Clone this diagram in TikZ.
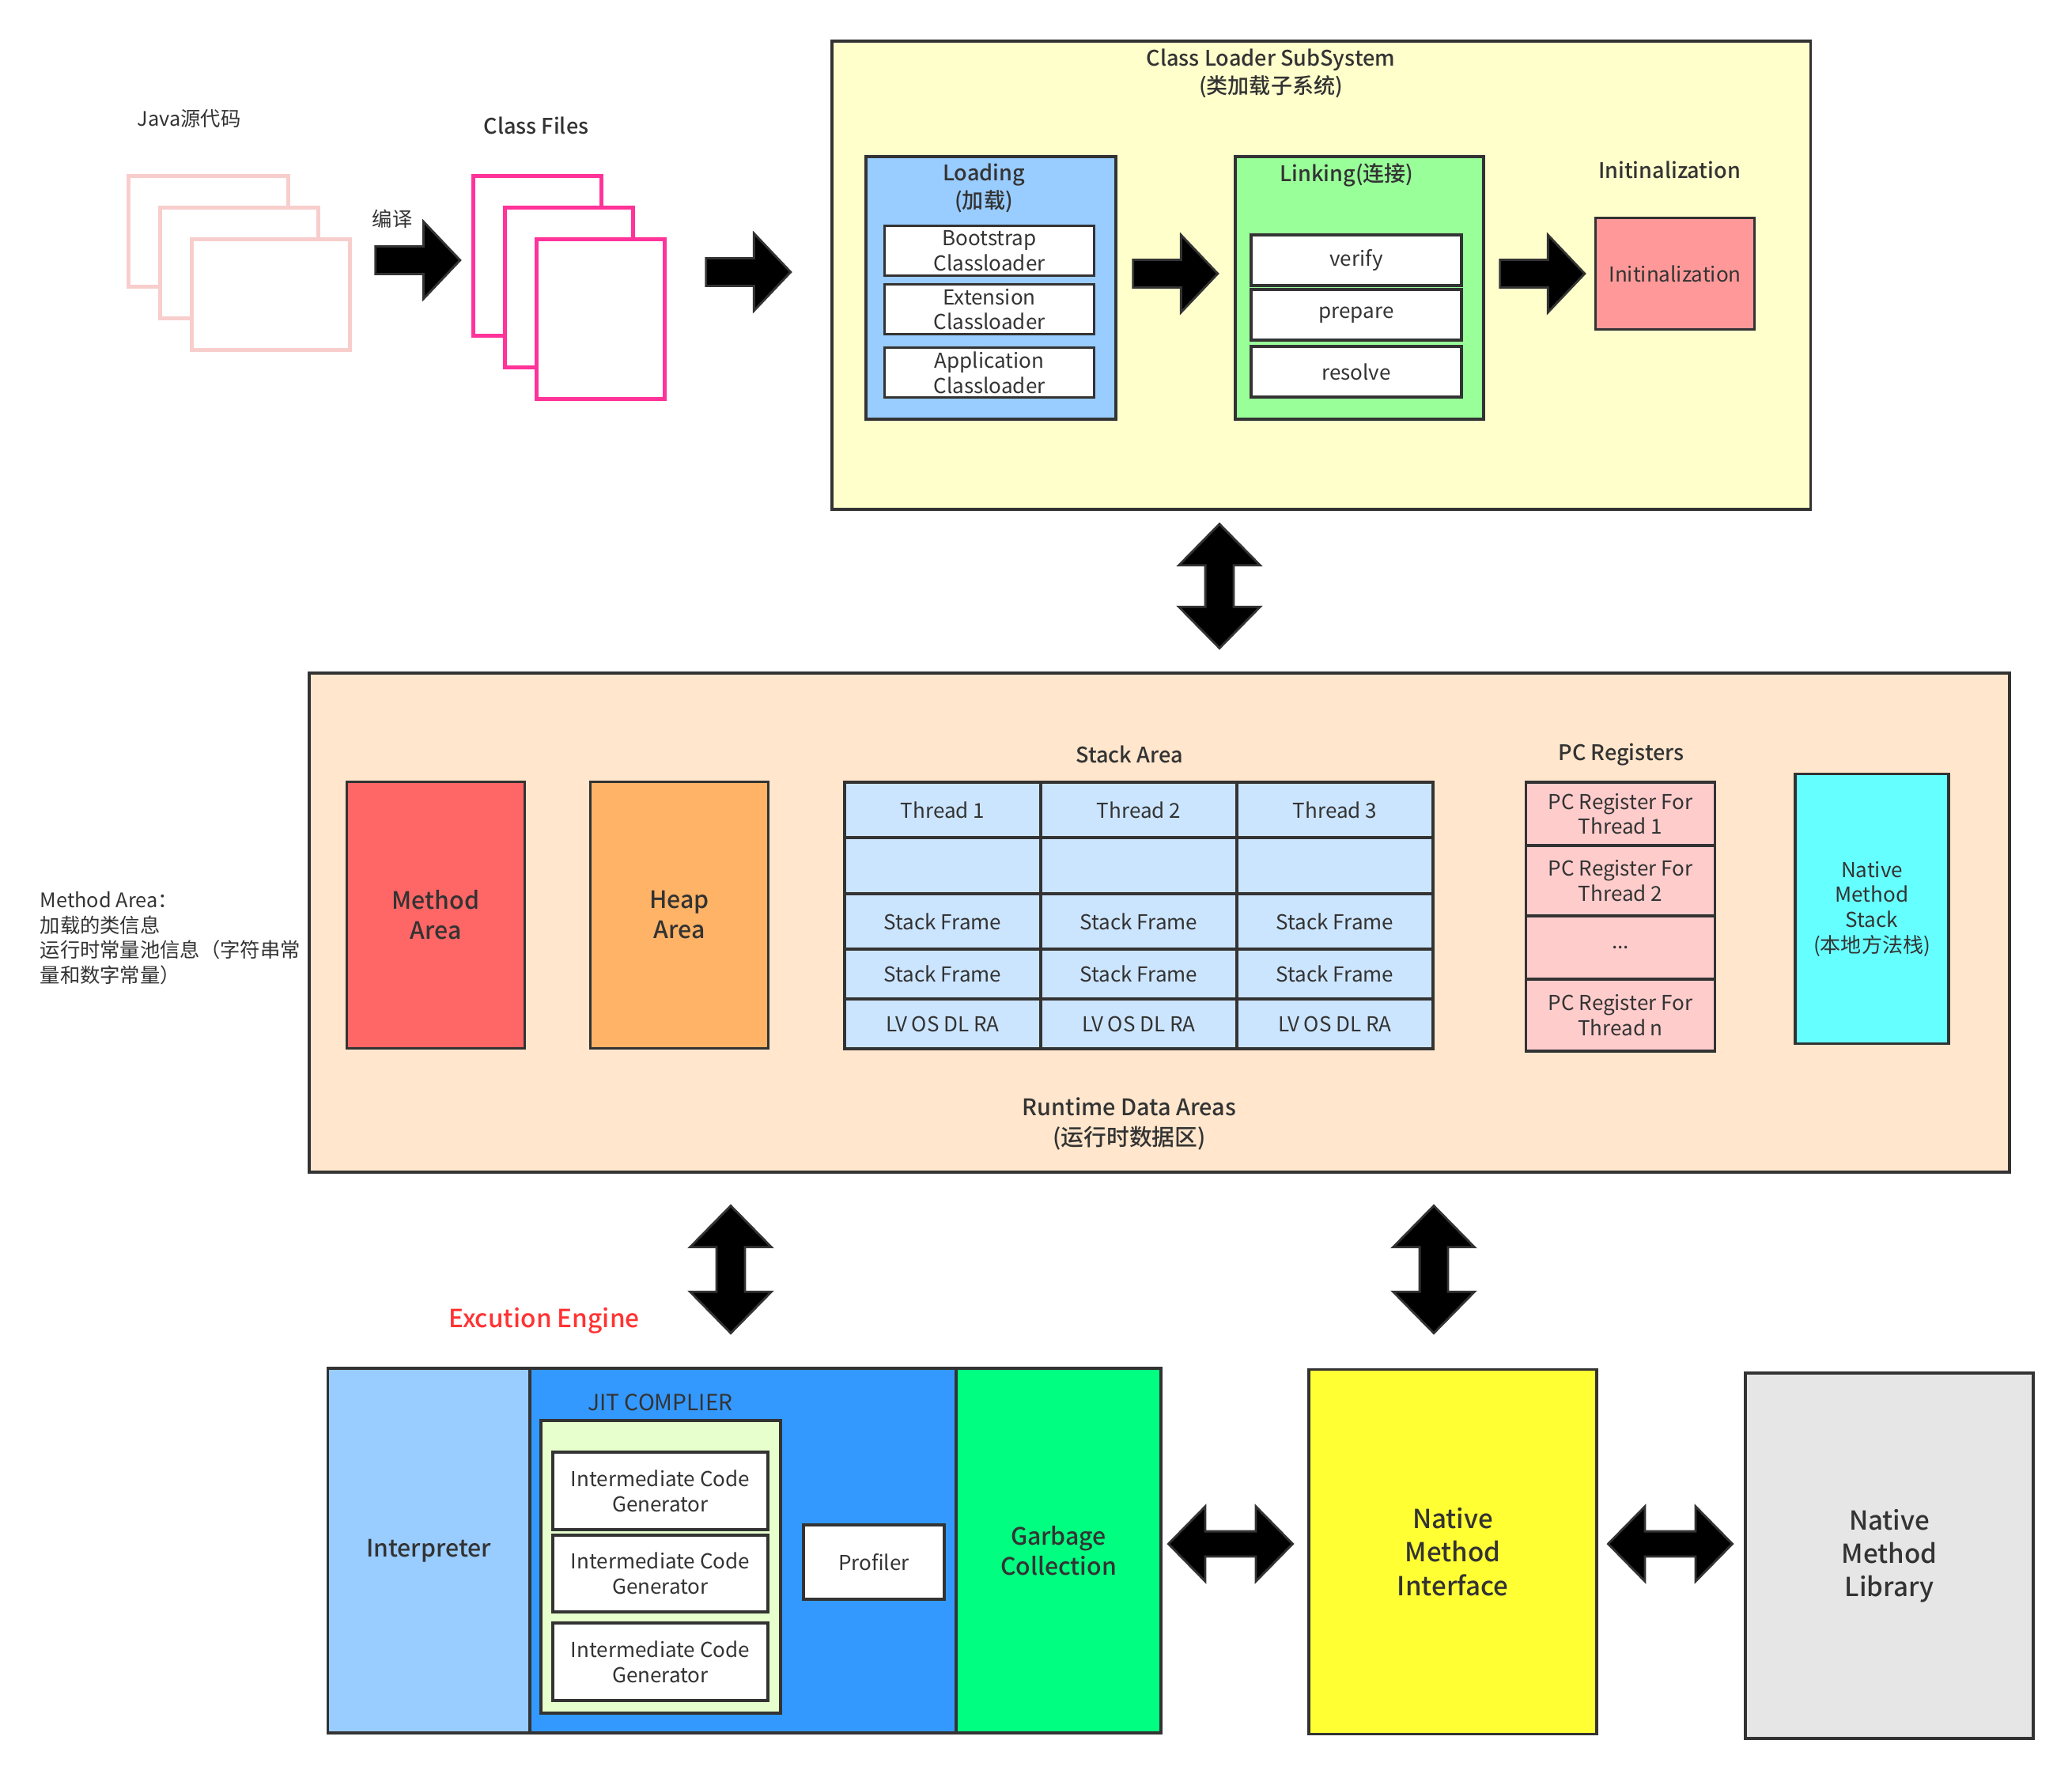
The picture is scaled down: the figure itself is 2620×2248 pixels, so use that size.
\documentclass[tikz,border=0pt]{standalone}
\usepackage{fontspec}
\IfFontExistsTF{Noto Sans CJK SC Medium}
  {\setmainfont{Noto Sans CJK SC}[BoldFont={Noto Sans CJK SC Medium}]}
  {\setmainfont{Noto Sans CJK SC}}
\usepackage{tikz}
\usetikzlibrary{positioning, shapes.arrows, arrows.meta}

\definecolor{ink}{HTML}{333333}
\definecolor{srcpink}{HTML}{F8CECC}
\definecolor{clspink}{HTML}{FF3399}
\definecolor{cllyellow}{HTML}{FFFFCC}
\definecolor{loadblue}{HTML}{99CCFF}
\definecolor{linkgreen}{HTML}{99FF99}
\definecolor{initred}{HTML}{FF9999}
\definecolor{rdaorange}{HTML}{FFE6CC}
\definecolor{methodred}{HTML}{FF6666}
\definecolor{heaporange}{HTML}{FFB366}
\definecolor{stackblue}{HTML}{CCE5FF}
\definecolor{pcpink}{HTML}{FFCCCC}
\definecolor{nmscyan}{HTML}{66FFFF}
\definecolor{jitblue}{HTML}{3399FF}
\definecolor{jitgreen}{HTML}{E6FFCC}
\definecolor{gcgreen}{HTML}{00FF80}
\definecolor{nmiyellow}{HTML}{FFFF33}
\definecolor{nmlgrey}{HTML}{E6E6E6}
\definecolor{engred}{HTML}{FF3333}

\begin{document}
\begin{tikzpicture}[x=0.01cm, y=-0.01cm,
    every node/.style={text=ink},
    box/.style={draw=ink, line width=1pt, align=center, inner sep=1pt,
      font=\fontsize{7.4}{9}\selectfont},
    heading/.style={align=center, font=\fontsize{7.7}{9.8}\selectfont\bfseries},
    bigtext/.style={font=\fontsize{8.6}{10.8}\selectfont\bfseries},
    hugetext/.style={font=\fontsize{9.4}{12}\selectfont\bfseries},
    smalltext/.style={align=left, font=\fontsize{7.2}{9}\selectfont},
    filecard/.style={draw=#1, line width=1.3pt, fill=white, anchor=north west},
    cell/.style={box, fill=stackblue, minimum width=2.48cm},
    pcreg/.style={box, fill=pcpink, minimum width=2.39cm},
    rightarrow/.style={single arrow, fill=black, draw=ink, line width=0.8pt,
      inner sep=0.16cm, single arrow head extend=0.315cm,
      single arrow tip angle=93, minimum height=1.07cm},
    updown/.style={double arrow, fill=black, draw=ink, line width=0.8pt, rotate=90,
      inner sep=0.165cm, double arrow head extend=0.335cm,
      double arrow tip angle=89, minimum height=1.61cm},
    leftright/.style={double arrow, fill=black, draw=ink, line width=0.8pt,
      inner sep=0.145cm, double arrow head extend=0.315cm,
      double arrow tip angle=91, minimum height=1.57cm}]
    \useasboundingbox (0,0) rectangle (2620,2248);

    % source files -> class files
    \node[filecard=srcpink, minimum width=2.02cm, minimum height=1.40cm] (srcA) at (160,220) {};
    \node[filecard=srcpink, minimum width=2.00cm, minimum height=1.40cm] (srcB) at (200,260) {};
    \node[filecard=srcpink, minimum width=2.00cm, minimum height=1.40cm] (srcC) at (240,300) {};
    \node[smalltext] (srcL) at (239,150) {Java源代码};
    \node[rightarrow] (compile) at (520,329) {};
    \node[smalltext] (compileL) at (496,277) {编译};
    \node[filecard=clspink, minimum width=1.62cm, minimum height=2.02cm] (cfA) at (596,220) {};
    \node[filecard=clspink, minimum width=1.62cm, minimum height=2.02cm] (cfB) at (636,260) {};
    \node[filecard=clspink, minimum width=1.62cm, minimum height=2.02cm] (cfC) at (676,300) {};
    \node[heading] (cfL) at (678,159) {Class Files};
    \node[rightarrow] (toCLS) at (938,344) {};

    % class loader subsystem
    \node[box, fill=cllyellow, anchor=north west, minimum width=12.37cm, minimum height=5.92cm] (cls) at (1050,50) {};
    \node[heading] (clsL) at (1607,93) {Class Loader SubSystem\\(类加载子系统)};
    \node[box, fill=loadblue, anchor=north west, minimum width=3.16cm, minimum height=3.32cm] (loading) at (1093,196) {};
    \node[heading] (loadingL) at (1244,238) {Loading\\(加载)};
    \node[box, fill=white, minimum width=2.65cm, minimum height=0.63cm] (boot) at (1251,317) {Bootstrap\\Classloader};
    \node[box, fill=white, minimum width=2.65cm, minimum height=0.63cm] (ext) at (1251,391) {Extension\\Classloader};
    \node[box, fill=white, minimum width=2.65cm, minimum height=0.63cm] (app) at (1251,471) {Application\\Classloader};
    \node[rightarrow] (toLink) at (1478,346) {};
    \node[box, fill=linkgreen, anchor=north west, minimum width=3.14cm, minimum height=3.32cm] (linking) at (1560,196) {};
    \node[heading] (linkingL) at (1703,221) {Linking(连接)};
    \node[box, fill=white, minimum width=2.66cm, minimum height=0.64cm] (verify) at (1715,329) {verify};
    \node[box, fill=white, minimum width=2.66cm, minimum height=0.64cm] (prepare) at (1715,398) {prepare};
    \node[box, fill=white, minimum width=2.66cm, minimum height=0.64cm] (resolve) at (1715,470) {resolve};
    \node[rightarrow] (toInit) at (1942,346) {};
    \node[heading] (initL) at (2111,215) {Initinalization};
    \node[box, fill=initred, minimum width=2.01cm, minimum height=1.41cm] (init) at (2118,346) {Initinalization};

    \node[updown, minimum height=1.57cm] (clsRda) at (1542,741) {};

    % runtime data areas
    \node[box, fill=rdaorange, anchor=north west, minimum width=21.49cm, minimum height=6.31cm] (rda) at (389,849) {};
    \node[smalltext, anchor=west, inner sep=0pt] (methodNote) at (50,1186)
      {Method Area：\\加载的类信息\\运行时常量池信息（字符串常\\量和数字常量）};
    \node[box, bigtext, fill=methodred, minimum width=2.25cm, minimum height=3.37cm] (method) at (551,1157) {Method\\Area};
    \node[box, bigtext, fill=heaporange, minimum width=2.25cm, minimum height=3.37cm] (heap) at (859,1157) {Heap\\Area};
    \node[heading] (stackL) at (1428,954) {Stack Area};
    \foreach \c in {1,2,3} {
      \node[cell, minimum height=0.70cm] (thread\c) at ({944+248*\c},1024) {Thread \c};
      \node[cell, minimum height=0.71cm] (blank\c) at ({944+248*\c},1094.5) {};
      \node[cell, minimum height=0.70cm] (frameA\c) at ({944+248*\c},1165) {Stack Frame};
      \node[cell, minimum height=0.63cm] (frameB\c) at ({944+248*\c},1231.5) {Stack Frame};
      \node[cell, minimum height=0.63cm] (locals\c) at ({944+248*\c},1294.5) {LV OS DL RA};
    }
    \node[heading] (pcL) at (2050,954) {PC Registers};
    \node[pcreg, minimum height=0.80cm] (pc1) at (2049,1029) {PC Register For\\Thread 1};
    \node[pcreg, minimum height=0.89cm] (pc2) at (2049,1113.5) {PC Register For\\Thread 2};
    \node[pcreg, minimum height=0.80cm] (pcdots) at (2049,1198) {...};
    \node[pcreg, minimum height=0.91cm] (pcn) at (2049,1283.5) {PC Register For\\Thread n};
    \node[box, fill=nmscyan, minimum width=1.94cm, minimum height=3.41cm] (nms) at (2367,1149) {Native\\Method\\Stack\\(本地方法栈)};
    \node[heading, font=\fontsize{8.2}{10.8}\selectfont\bfseries] (rdaL) at (1428,1421) {Runtime Data Areas\\(运行时数据区)};

    \node[updown] (rdaEng) at (924,1605) {};
    \node[updown] (rdaNmi) at (1813,1605) {};
    \node[text=engred, font=\fontsize{9}{11}\selectfont\bfseries] (engL) at (688,1670) {Excution Engine};

    % execution engine
    \node[box, bigtext, fill=loadblue, minimum width=2.55cm, minimum height=4.61cm] (interp) at (542,1960.5) {Interpreter};
    \node[box, fill=jitblue, minimum width=5.39cm, minimum height=4.61cm] (jit) at (939.5,1960.5) {};
    \node[box, bigtext, fill=gcgreen, minimum width=2.59cm, minimum height=4.61cm] (gc) at (1338.5,1960.5) {Garbage\\Collection};
    \node[font=\fontsize{8}{10}\selectfont] (jitL) at (835,1773) {JIT COMPLIER};
    \node[box, fill=jitgreen, minimum width=3.03cm, minimum height=3.70cm] (jitin) at (835.5,1981) {};
    \node[box, fill=white, minimum width=2.72cm, minimum height=0.98cm] (icg1) at (835,1885) {Intermediate Code\\Generator};
    \node[box, fill=white, minimum width=2.72cm, minimum height=0.97cm] (icg2) at (835,1989.5) {Intermediate Code\\Generator};
    \node[box, fill=white, minimum width=2.72cm, minimum height=0.98cm] (icg3) at (835,2101) {Intermediate Code\\Generator};
    \node[box, fill=white, minimum width=1.78cm, minimum height=0.94cm] (profiler) at (1105,1975) {Profiler};
    \node[leftright] (gcNmi) at (1556,1952) {};
    \node[box, hugetext, fill=nmiyellow, minimum width=3.64cm, minimum height=4.61cm] (nmi) at (1837,1962) {Native\\Method\\Interface};
    \node[leftright] (nmiNml) at (2112,1952) {};
    \node[box, hugetext, fill=nmlgrey, minimum width=3.64cm, minimum height=4.62cm] (nml) at (2389,1967) {Native\\Method\\Library};
\end{tikzpicture}
\end{document}
